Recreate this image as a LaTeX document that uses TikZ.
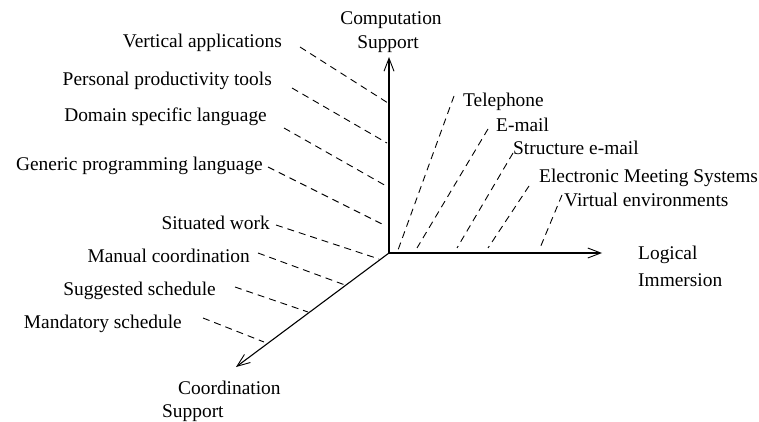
\documentclass[tikz,border=0pt]{standalone}
\usepackage{fontspec}
\setmainfont{Liberation Serif}
\usetikzlibrary{arrows.meta}
\begin{document}
\begin{tikzpicture}[x=1pt,y=-1pt,
  lbl/.style={inner sep=0pt,font=\fontsize{19.4}{23}\selectfont},
  axis/.style={line width=1.1pt,-{Straight Barb[length=13pt,width=10pt,line width=0.9pt]}},
  guide/.style={line width=0.9pt,dash pattern=on 7pt off 5pt}]
\path[use as bounding box] (0,0) rectangle (759,422);
% axes
\coordinate (O) at (389,253);
\coordinate (ztip) at (389,57);
\coordinate (xtip) at (602,253);
\coordinate (ytip) at (236,367);
\draw[axis] (O) -- (ztip);
\draw[axis] (O) -- (xtip);
\draw[axis] (O) -- (ytip);
% axis labels
\node[lbl,anchor=base] (comp) at (391,25) {Computation};
\node[lbl,anchor=base] (comp2) at (388,49) {Support};
\node[lbl,anchor=base west] (log) at (638,259) {Logical};
\node[lbl,anchor=base west] (log2) at (638,286) {Immersion};
\node[lbl,anchor=base west] (coord) at (178,394) {Coordination};
\node[lbl,anchor=base west] (coord2) at (162,417) {Support};
% left labels (computation)
\node[lbl,anchor=base east] (va) at (282,48) {Vertical applications};
\node[lbl,anchor=base east] (pp) at (272,86) {Personal productivity tools};
\node[lbl,anchor=base east] (ds) at (267,122) {Domain specific language};
\node[lbl,anchor=base east] (gp) at (263,171) {Generic programming language};
\node[lbl,anchor=base east] (sw) at (270,229) {Situated work};
% left labels (coordination)
\node[lbl,anchor=base east] (mc) at (250,262) {Manual coordination};
\node[lbl,anchor=base east] (ss) at (216,295) {Suggested schedule};
\node[lbl,anchor=base east] (ms) at (182,328) {Mandatory schedule};
% right labels
\node[lbl,anchor=base west] (tel) at (463,107) {Telephone};
\node[lbl,anchor=base west] (em) at (496,132) {E-mail};
\node[lbl,anchor=base west] (se) at (513,155) {Structure e-mail};
\node[lbl,anchor=base west] (ems) at (539,182) {Electronic Meeting Systems};
\node[lbl,anchor=base west] (ve) at (564,206) {Virtual environments};
% guide coordinates
\coordinate (va1) at (300,47);  \coordinate (va2) at (388,103);
\coordinate (pp1) at (292,88);  \coordinate (pp2) at (387,143);
\coordinate (ds1) at (284,128); \coordinate (ds2) at (388,187);
\coordinate (gp1) at (268,167); \coordinate (gp2) at (386,226);
\coordinate (sw1) at (276,225); \coordinate (sw2) at (379,259);
\coordinate (mc1) at (258,253); \coordinate (mc2) at (345,285);
\coordinate (ss1) at (235,287); \coordinate (ss2) at (308,312);
\coordinate (ms1) at (203,318); \coordinate (ms2) at (264,342);
\coordinate (tel1) at (454,96);  \coordinate (tel2) at (398,250);
\coordinate (em1) at (488,129);  \coordinate (em2) at (417,248);
\coordinate (se1) at (513,153);  \coordinate (se2) at (457,248);
\coordinate (ems1) at (529,186); \coordinate (ems2) at (488,248);
\coordinate (ve1) at (562,195);  \coordinate (ve2) at (540,248);
% guides
\foreach \g in {va,pp,ds,gp,sw,mc,ss,ms,tel,em,se,ems,ve}
  \draw[guide] (\g1) -- (\g2);
\end{tikzpicture}
\end{document}
